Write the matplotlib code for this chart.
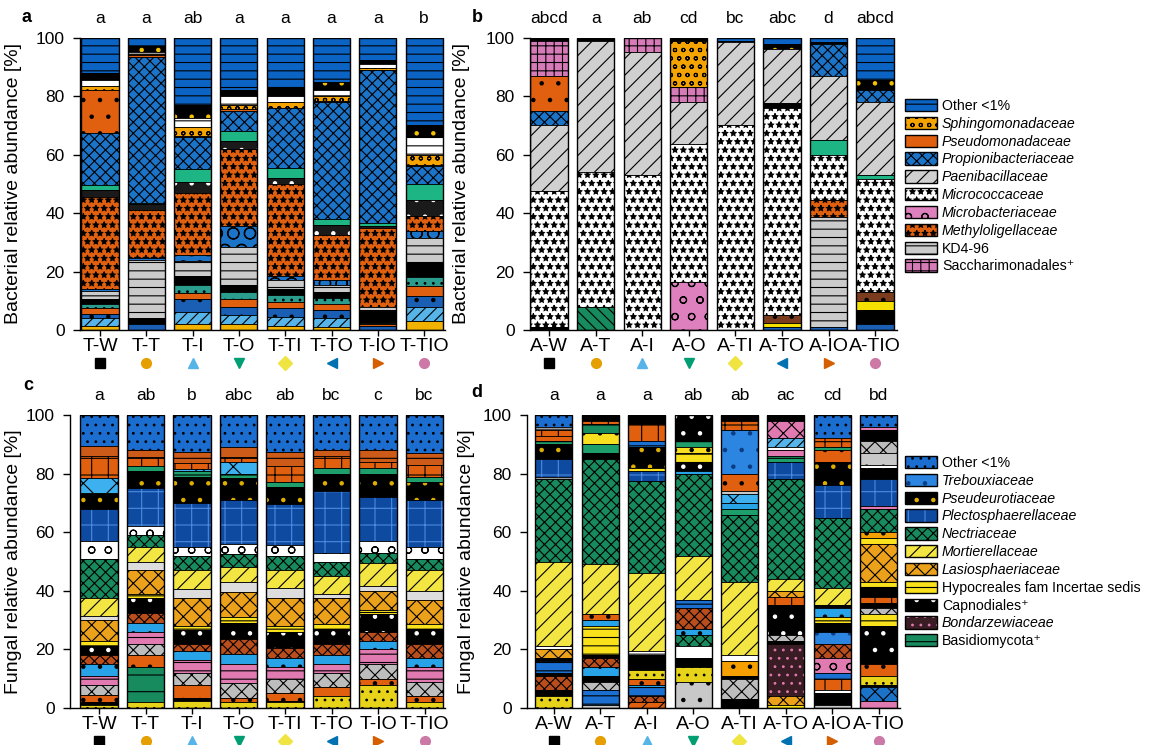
import matplotlib.pyplot as plt
from matplotlib.patches import Patch

plt.rcParams['font.family'] = ['Liberation Sans', 'DejaVu Sans']
plt.rcParams['hatch.linewidth'] = 0.8

################ Groups, letters, markers ################

groups_T = ['T-W', 'T-T', 'T-I', 'T-O', 'T-TI', 'T-TO', 'T-IO', 'T-TIO']
groups_A = ['A-W', 'A-T', 'A-I', 'A-O', 'A-TI', 'A-TO', 'A-IO', 'A-TIO']
letters_a = ['a', 'a', 'ab', 'a', 'a', 'a', 'a', 'b']
letters_b = ['abcd', 'a', 'ab', 'cd', 'bc', 'abc', 'd', 'abcd']
letters_c = ['a', 'ab', 'b', 'abc', 'ab', 'bc', 'c', 'bc']
letters_d = ['a', 'a', 'a', 'ab', 'ab', 'ac', 'cd', 'bd']
marker_shapes = ['s', 'o', '^', 'v', 'D', '<', '>', 'o']
marker_colors = ['#000000', '#E69F00', '#56B4E9', '#009E73',
                 '#F0E442', '#0072B2', '#D55E00', '#CC79A7']

################ Panel a: bacteria, T (bottom -> top) ################

taxa_a = ['gold', 'ltblue', 'bluem', 'orangem', 'teal', 'blackm', 'KD4',
          'bluecirc', 'Meth', 'black2', 'greenm', 'Propion', 'Pseudo',
          'Sphingo', 'whitem', 'blackdots', 'Other_b']
vals_a = [
    [1.5, 0, 2, 2, 1.5, 1, 0, 3],
    [2.5, 0, 4, 3, 3, 3, 0, 5],
    [1.5, 2, 4.5, 3, 3, 3, 1.5, 3.5],
    [2, 0, 2, 2.5, 2, 2, 0.5, 3.5],
    [1.5, 0, 3, 2.5, 2.5, 2, 0.5, 3],
    [1.5, 2, 3, 2.5, 2, 2, 4.5, 5],
    [3, 20, 5, 13, 3, 2.5, 1, 8.5],
    [0.5, 0.5, 2, 7, 1.5, 1.5, 0, 2.5],
    [31.5, 16.5, 21.5, 26.5, 31.5, 15.5, 27, 5],
    [2.5, 2, 3.5, 2.5, 2, 3.5, 0.5, 5.5],
    [1.5, 0.5, 4.5, 3.5, 3.5, 2, 1, 5.5],
    [18, 50, 11, 7, 20.5, 40, 52.5, 6],
    [14.5, 0.5, 0.5, 0.5, 0, 0.5, 0, 0.5],
    [1.5, 0.5, 3, 1.5, 2, 1.5, 0.5, 3.5],
    [2, 0.5, 3, 3, 2, 2, 1.5, 6],
    [2.5, 2, 4.5, 2, 3, 3, 1.5, 4],
    [12, 3, 23, 18, 17, 15, 7.5, 30],
]

################ Panel b: bacteria, A ################

taxa_b = ['bluem', 'blackm', 'greenh', 'Microbact', 'yellowm', 'brownb', 'KD4',
          'Meth', 'Micrococc', 'blackm', 'greenm', 'Paeni', 'Propion', 'Pseudo',
          'Sacchar', 'Sphingo', 'blackdots', 'Other_b']
vals_b = [
    [0, 0, 0, 0, 0, 1, 1, 2],
    [1, 0, 0, 0, 0, 0, 0, 5],
    [0, 8, 0, 0, 0, 0, 0, 0],
    [0, 0, 0, 16.5, 0, 0, 0, 0],
    [0, 0, 0, 0, 0, 1.5, 0, 3],
    [0, 0, 0, 0, 0, 2.5, 0, 3],
    [0, 0, 0, 0, 0, 0, 37.5, 0],
    [0, 0, 0, 0, 0, 0, 6, 0],
    [46.5, 46, 53, 47, 70, 71, 15.5, 38.5],
    [0, 0, 0, 0, 0, 1.5, 0, 0],
    [0, 0, 0, 0, 0, 0, 5, 1.5],
    [22.5, 45, 42, 14.5, 28.5, 18.5, 22, 25],
    [5, 0, 0, 0, 0, 0, 11, 4],
    [12, 0, 0, 0, 0, 0, 0, 0],
    [12, 0, 5, 5, 0, 0, 0, 0],
    [0, 0, 0, 16, 0, 0, 0, 0],
    [1, 1, 0, 1, 0.5, 2, 0.5, 3.5],
    [0, 0, 0, 0, 1, 2, 1.5, 14.5],
]

################ Panel c: fungi, T ################

taxa_c = ['ydot', 'fblack', 'Basidio', 'forange', 'grayweave', 'pinkm',
          'ltbluem', 'brownm', 'Capno', 'Hypo', 'Lasio', 'whitegray', 'Mortier',
          'Nectri', 'whitewave', 'Plecto', 'Pseudeur', 'green2', 'ltweave',
          'orange2', 'orange3', 'Other_f']
vals_c = [
    [1, 2, 2.5, 2, 2, 4, 8, 2],
    [1, 0, 1, 0, 0.5, 0, 0, 0],
    [0, 12, 0, 0, 0, 0, 0, 0],
    [2.5, 4, 4.5, 1.5, 2.5, 3, 2, 2],
    [3.5, 4, 4, 5, 5, 5, 5, 5],
    [3, 4, 4.5, 6.5, 4, 3, 5, 5],
    [4, 3, 3, 3.5, 3, 3, 3, 3],
    [3, 3.5, 2.5, 5, 3.5, 4, 3, 5],
    [3, 5, 4.5, 5.5, 5.5, 5, 6, 5],
    [2, 1.5, 1.5, 2, 2, 1.5, 1.5, 1.5],
    [7, 8, 9.5, 8.5, 9.5, 9, 6.5, 8.5],
    [1.5, 3, 3, 3.5, 3.5, 1.5, 1.5, 3],
    [6, 5, 6.5, 5, 6, 6, 8, 7],
    [13.5, 4, 5, 4.5, 5, 5, 3.5, 4],
    [6, 3, 3, 3.5, 3.5, 3, 4, 4],
    [11, 13, 15, 15, 14, 21, 15, 16],
    [5, 6, 9, 7.5, 6, 6, 8, 6],
    [0.5, 1.5, 2, 1.5, 1.5, 2, 2, 2],
    [5, 0, 0.5, 4, 0, 0, 0, 0],
    [7.5, 3, 2, 1.5, 5.5, 4, 2, 4],
    [3.5, 2.5, 4, 3.5, 5, 2, 4, 4],
    [10.5, 12, 12.5, 11, 12.5, 12, 12, 13],
]

################ Panel d: fungi, A (segments per bar) ################

keys_d = [
    ['ydot', 'fblack', 'brownm', 'fblack', 'fbluem', 'fblack', 'Lasio', 'fwhite',
     'Mortier', 'Nectri', 'fwhite', 'Plecto', 'Pseudeur', 'green2', 'forange',
     'orange2', 'fwhite', 'Other_f'],
    ['grayd', 'fbluem', 'grayweave', 'fblack', 'ltbluem', 'brownm', 'fblack',
     'Hypo', 'ltbluem', 'forange', 'Mortier', 'Nectri', 'fblack', 'green2',
     'ytop', 'Basidio', 'orange2', 'fblack'],
    ['orangeh', 'brownm', 'fbluem', 'ltbluem', 'forange', 'ydot', 'fblack',
     'Capno', 'fwhite', 'Mortier', 'Nectri', 'Plecto', 'ytop', 'Pseudeur',
     'fbluem', 'orange2', 'fblack'],
    ['grayd', 'ydot', 'fblack', 'pwhite', 'Nectri', 'ltbluem', 'brownm', 'fbluem',
     'Mortier', 'Nectri', 'ltbluem', 'Capno', 'Hypo', 'ytop', 'green2', 'Capno'],
    ['fblack', 'grayweave', 'fblack', 'orangey', 'fwhite', 'Mortier', 'Nectri',
     'green2', 'ltbluem', 'ltweave', 'grayd', 'forange', 'Treboux', 'orange2',
     'fblack'],
    ['Hypo', 'Lasio', 'Bondar', 'fblack', 'grayweave', 'Capno', 'orange2', 'Lasio',
     'Mortier', 'Nectri', 'Plecto', 'green2', 'pinkd', 'fwhite', 'ltblueh',
     'pinkweave', 'fblack'],
    ['grayd', 'fblack', 'fwhite', 'orange2', 'fbluem', 'pinkwave', 'brownm',
     'Treboux', 'fblack', 'Hypo', 'ltbluem', 'fblack', 'Mortier', 'Nectri',
     'Plecto', 'Pseudeur', 'forange', 'green2', 'orange2', 'Other_f'],
    ['pinkd', 'bluex', 'fblack', 'ydot', 'forange', 'Capno', 'Hypo', 'grayweave',
     'fblack', 'orange2', 'fblack', 'Hypo', 'Lasio', 'Hypo', 'orangey', 'Nectri',
     'pinkd', 'Plecto', 'Capno', 'fwhite', 'grayd', 'grayweave', 'fblack',
     'pinkd', 'Other_f'],
]
vals_d = [
    [4, 2, 5, 1, 4, 1, 3, 1, 29, 28, 1, 6, 5, 1, 2, 2, 1, 4],
    [1, 5, 3, 2, 3, 3, 1, 10, 2, 2, 17, 36, 2, 3, 4, 3, 1, 2],
    [2, 2, 3, 1, 2, 3, 2, 3, 1.5, 26.5, 31.5, 3.5, 1, 7, 2, 6, 3],
    [9, 5, 3, 4, 4, 2, 7, 3, 15, 28, 1, 3, 3, 2, 2, 9],
    [3, 7, 1, 5, 2, 25, 23, 2, 2, 3, 1, 6, 15, 3, 2],
    [1, 3, 18, 1, 2, 10, 3, 2, 4, 34, 6, 2, 2, 1, 3, 6, 2],
    [1, 4, 1, 4, 2, 5, 5, 4, 3, 2, 3, 1, 6, 24, 11, 8, 4, 1, 3, 8],
    [2.5, 4.5, 1, 3, 4, 13, 4, 2, 2, 2, 3, 2, 13, 2, 2, 8, 1, 9, 4, 1, 4, 4, 4, 1, 4],
]

################ Legends ################

legend_b_keys = ['Other_b', 'Sphingo', 'Pseudo', 'Propion', 'Paeni', 'Micrococc',
                 'Microbact', 'Meth', 'KD4', 'Sacchar']
legend_b_labels = ['Other <1%', 'Sphingomonadaceae', 'Pseudomonadaceae',
                   'Propionibacteriaceae', 'Paenibacillaceae', 'Micrococcaceae',
                   'Microbacteriaceae', 'Methyloligellaceae', 'KD4-96',
                   'Saccharimonadales\u207a']
legend_b_italic = [False, True, True, True, True, True, True, True, False, False]

legend_d_keys = ['Other_f', 'Treboux', 'Pseudeur', 'Plecto', 'Nectri', 'Mortier',
                 'Lasio', 'Hypo', 'Capno', 'Bondar', 'Basidio']
legend_d_labels = ['Other <1%', 'Trebouxiaceae', 'Pseudeurotiaceae',
                   'Plectosphaerellaceae', 'Nectriaceae', 'Mortierellaceae',
                   'Lasiosphaeriaceae', 'Hypocreales fam Incertae sedis',
                   'Capnodiales\u207a', 'Bondarzewiaceae', 'Basidiomycota\u207a']
legend_d_italic = [False, True, True, True, True, True, True, False, False, True, False]

################ Styles: face colour, hatch, hatch colour ################

styles = {
    'Other_b': ('#0B63C4', '--', 'black'),
    'Sphingo': ('#F5A300', 'oo', 'black'),
    'Pseudo': ('#E0600F', '.', 'black'),
    'Propion': ('#1C74C8', 'xxx', 'black'),
    'Paeni': ('#D0D0D0', '//', 'black'),
    'Micrococc': ('white', '**', 'black'),
    'Microbact': ('#DE80BE', 'o', 'black'),
    'Meth': ('#E0600F', '**', 'black'),
    'KD4': ('#CBCBCB', '--', 'black'),
    'Sacchar': ('#D67AB8', '++', 'black'),
    'gold': ('#F2B200', '', 'black'),
    'ltblue': ('#56B4E9', '///', 'black'),
    'bluem': ('#1A5FB4', '.', 'black'),
    'orangem': ('#E0600F', '', 'black'),
    'teal': ('#2A9D8F', '..', 'black'),
    'blackm': ('black', '', 'black'),
    'bluecirc': ('#1C74C8', 'O', 'black'),
    'black2': ('#1A1A1A', '.', 'white'),
    'greenm': ('#1DB584', '', 'black'),
    'whitem': ('white', '--', 'black'),
    'blackdots': ('black', '.', '#F5C400'),
    'greenh': ('#178A5E', '\\\\\\', 'black'),
    'yellowm': ('#F5E000', '', 'black'),
    'brownb': ('#7A3B1E', '.', 'black'),
    'Other_f': ('#1B6DD0', '..', 'black'),
    'Treboux': ('#2C85E0', '.', '#0B3C80'),
    'Pseudeur': ('black', '.', '#E0B000'),
    'Plecto': ('#0E4AA0', '+', '#4A8AE0'),
    'Nectri': ('#178A5E', 'xxx', 'black'),
    'Mortier': ('#F3E642', '//', 'black'),
    'Lasio': ('#EBA11A', 'xx', 'black'),
    'Hypo': ('#F9E21C', '--', 'black'),
    'Capno': ('black', '.', 'white'),
    'Bondar': ('#3A1C24', '..', '#E07AB0'),
    'Basidio': ('#178A5E', '-', 'black'),
    'ydot': ('#E6D31A', '..', 'black'),
    'fblack': ('black', '', 'black'),
    'forange': ('#E0600F', '.', 'black'),
    'grayweave': ('#BDBDBD', 'xx', 'black'),
    'pinkm': ('#E07AB0', '--', 'black'),
    'ltbluem': ('#29A3E8', '.', 'black'),
    'brownm': ('#B94E1C', 'xxx', 'black'),
    'whitegray': ('#DDDDDD', '', 'black'),
    'whitewave': ('white', 'o', 'black'),
    'green2': ('#1E9E6A', '-', 'black'),
    'ltweave': ('#3DB0F0', 'x', 'black'),
    'orange2': ('#E0600F', '+', 'black'),
    'orange3': ('#CC5A18', '-', 'black'),
    'grayd': ('#C8C8C8', '.', 'black'),
    'pinkd': ('#E07AB0', '', 'black'),
    'fbluem': ('#1A6FD0', '--', 'black'),
    'fwhite': ('white', '--', 'black'),
    'pwhite': ('white', '', 'white'),
    'ytop': ('#F8E020', '.', 'black'),
    'orangey': ('#F5A000', '.', 'black'),
    'ltblueh': ('#56B4E9', '///', 'black'),
    'pinkweave': ('#E07AB0', 'xx', 'black'),
    'pinkwave': ('#E07AB0', 'o', 'black'),
    'bluex': ('#1A73C9', 'xx', 'black'),
    'orangeh': ('#E0600F', '//', 'black'),
}

################ Drawing helpers ################

W, H = 1149, 745


def make_ax(left, right, bottom_px, top_px):
    return fig.add_axes([left / W, 1 - bottom_px / H,
                         (right - left) / W, (bottom_px - top_px) / H])


def draw_bar(ax, x, keys, vals):
    bottom = 0
    for k, v in zip(keys, vals):
        if v <= 0:
            continue
        face, hatch, hc = styles[k]
        ax.bar(x, v, bottom=bottom, width=0.8, color=face, edgecolor=hc,
               hatch=hatch, linewidth=0)
        ax.bar(x, v, bottom=bottom, width=0.8, fill=False, edgecolor='black',
               linewidth=0.5)
        bottom += v
    ax.bar(x, bottom, width=0.8, fill=False, edgecolor='black', linewidth=1.0)


def setup(ax, names, letters, ylabel, xmin, xmax, label_x):
    ax.set_xlim(xmin, xmax)
    ax.set_ylim(0, 100)
    ax.spines['top'].set_visible(False)
    ax.spines['right'].set_visible(False)
    ax.spines['left'].set_linewidth(1.0)
    ax.spines['bottom'].set_linewidth(1.0)
    ax.set_yticks([0, 20, 40, 60, 80, 100])
    ax.set_xticks(range(8))
    ax.set_xticklabels(names, fontsize=14)
    ax.tick_params(axis='y', labelsize=12.5, length=5, width=1, pad=6)
    ax.tick_params(axis='x', length=4, width=1, pad=2)
    ax.set_ylabel(ylabel, fontsize=14)
    ax.yaxis.set_label_coords(label_x, 0.5)
    for i, t in enumerate(letters):
        ax.text(i, 105, t, ha='center', va='baseline', fontsize=12.5)
    for i in range(8):
        ax.plot(i, -0.113, marker=marker_shapes[i], color=marker_colors[i],
                markersize=7, transform=ax.get_xaxis_transform(), clip_on=False)


def add_legend(keys, labels, italic, anchor):
    handles = []
    for k in keys:
        face, hatch, hc = styles[k]
        handles.append((Patch(facecolor=face, edgecolor=hc, hatch=hatch, linewidth=0),
                        Patch(fill=False, edgecolor='black', linewidth=1.0)))
    leg = fig.legend(handles, labels, loc='upper left', bbox_to_anchor=anchor,
                     frameon=False, fontsize=10.2, handlelength=2.25,
                     handleheight=0.95, handletextpad=0.35, labelspacing=0.27,
                     borderpad=0, borderaxespad=0)
    for txt, it in zip(leg.get_texts(), italic):
        if it:
            txt.set_fontstyle('italic')


################ Figure ################

fig = plt.figure(figsize=(W / 100, H / 100), dpi=100)

ax_a = make_ax(80, 445, 330, 37.7)
for i in range(8):
    draw_bar(ax_a, i, taxa_a, [row[i] for row in vals_a])
setup(ax_a, groups_T, letters_a, 'Bacterial relative abundance [%]',
      -0.432, 7.45, -58 / 365)

ax_b = make_ax(530, 897, 330, 37.7)
for i in range(8):
    draw_bar(ax_b, i, taxa_b, [row[i] for row in vals_b])
setup(ax_b, groups_A, letters_b, 'Bacterial relative abundance [%]',
      -0.41, 7.47, -60 / 367)

ax_c = make_ax(70, 445, 708, 415)
for i in range(8):
    draw_bar(ax_c, i, taxa_c, [row[i] for row in vals_c])
setup(ax_c, groups_T, letters_c, 'Fungal relative abundance [%]',
      -0.625, 7.44, -48 / 375)

ax_d = make_ax(527, 900, 708, 415)
for i in range(8):
    draw_bar(ax_d, i, keys_d[i], vals_d[i])
setup(ax_d, groups_A, letters_d, 'Fungal relative abundance [%]',
      -0.58, 7.46, -52 / 373)

add_legend(legend_b_keys, legend_b_labels, legend_b_italic, (905 / W, 1 - 99 / H))
add_legend(legend_d_keys, legend_d_labels, legend_d_italic, (905 / W, 1 - 456 / H))

for lbl, x, y in [('a', 27, 17), ('b', 477, 17), ('c', 28, 385), ('d', 477, 393)]:
    fig.text(x / W, 1 - y / H, lbl, fontsize=13, fontweight='bold',
             ha='center', va='center')

fig.savefig('out.png', dpi=100)
